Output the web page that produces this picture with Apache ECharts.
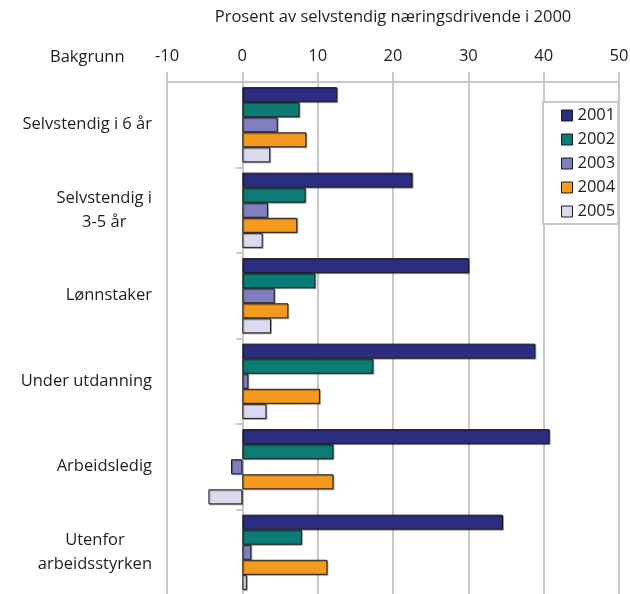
<!DOCTYPE html>
<html>
<head>
<meta charset="utf-8">
<script src="https://cdn.jsdelivr.net/npm/echarts@6/dist/echarts.min.js"></script>
<style>
  html, body { margin: 0; padding: 0; background: #ffffff; }
  #chart { width: 630px; height: 594px; }
</style>
</head>
<body>
<div id="chart"></div>
<script>
// Background groups, top to bottom
const categories = ['Selvstendig i 6 år', 'Selvstendig i\n3-5 år', 'Lønnstaker', 'Under utdanning', 'Arbeidsledig', 'Utenfor\narbeidsstyrken'];
const years = ['2001', '2002', '2003', '2004', '2005'];
// Percent of self-employed in 2000, by year
const s2001 = [12.6, 22.6, 30.1, 38.9, 40.8, 34.6];
const s2002 = [7.6, 8.4, 9.7, 17.4, 12.1, 7.9];
const s2003 = [4.7, 3.4, 4.3, 0.8, -1.5, 1.2];
const s2004 = [8.5, 7.3, 6.1, 10.3, 12.1, 11.3];
const s2005 = [3.7, 2.7, 3.8, 3.2, -4.5, 0.6];
const xTicks = { min: -10, max: 50, interval: 10 };

const values = [s2001, s2002, s2003, s2004, s2005];
const colors = ['#2b2e7e', '#0b7b76', '#7f7fbf', '#f39a1f', '#dcdaef'];
const font = '"Open Sans", "Noto Sans", sans-serif';
const fs = 16.5;
const textColor = '#1e1e1e';
const gridGray = '#c8c8c8';

const chart = echarts.init(document.getElementById('chart'), null, { renderer: 'canvas' });

chart.setOption({
  animation: false,
  textStyle: { fontFamily: font, color: textColor },
  title: [{
    text: 'Bakgrunn',
    left: 50, top: 49,
    padding: 0,
    textStyle: { fontFamily: font, fontSize: fs, fontWeight: 'normal', color: textColor }
  }, {
    // x-axis caption, centred over the plot area
    text: 'Prosent av selvstendig næringsdrivende i 2000',
    left: 393, top: 9, textAlign: 'center',
    padding: 0,
    textStyle: { fontFamily: font, fontSize: fs, fontWeight: 'normal', color: textColor }
  }],
  legend: {
    data: years,
    orient: 'vertical',
    left: 543, top: 102,
    icon: 'rect',
    itemWidth: 11, itemHeight: 11,
    itemGap: 7,
    padding: [5, 3, 4, 18],
    backgroundColor: '#ffffff',
    borderColor: gridGray,
    borderWidth: 2,
    borderRadius: 0,
    textStyle: { fontFamily: font, fontSize: fs, color: textColor, padding: [0, 0, 0, 0] },
    itemStyle: { borderColor: '#1a1a1a', borderWidth: 1 }
  },
  grid: { left: 167, right: 11, top: 82, height: 513, outerBoundsMode: 'none', containLabel: false },
  xAxis: {
    type: 'value',
    position: 'top',
    min: xTicks.min, max: xTicks.max, interval: xTicks.interval,
    axisLine: { show: true, lineStyle: { color: gridGray, width: 2 } },
    axisTick: { show: true, length: 10, lineStyle: { color: gridGray, width: 2 } },
    axisLabel: { fontFamily: font, fontSize: fs, color: textColor, margin: 17 },
    splitLine: { show: true, lineStyle: { color: gridGray, width: 2 } }
  },
  yAxis: {
    type: 'category',
    data: categories,
    inverse: true,
    axisLine: { show: true, onZero: true, lineStyle: { color: gridGray, width: 2 } },
    axisTick: { show: true, length: 6, lineStyle: { color: gridGray, width: 2 } },
    axisLabel: {
      align: 'right', margin: 15,
      formatter: v => v.split('\n').map(line => '{c|' + line + '}').join('\n'),
      rich: {
        c: { fontFamily: font, fontSize: fs, color: textColor, align: 'center', lineHeight: 24 }
      }
    },
    splitLine: { show: false }
  },
  series: years.map((y, i) => ({
    name: y,
    type: 'bar',
    data: values[i],
    barGap: '0%',
    barCategoryGap: '12%',
    itemStyle: {
      color: colors[i],
      borderColor: '#1a1a1a',
      borderWidth: 1,
      shadowColor: 'rgba(0,0,0,0.3)',
      shadowOffsetX: 1,
      shadowOffsetY: 1,
      shadowBlur: 0
    }
  }))
});
</script>
</body>
</html>
